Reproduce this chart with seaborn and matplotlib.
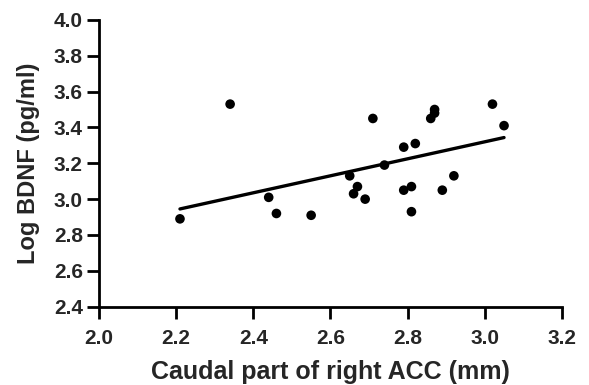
import matplotlib
matplotlib.use("Agg")
import matplotlib.pyplot as plt
import seaborn as sns
import pandas as pd

acc_mm = [2.21, 2.34, 2.44, 2.46, 2.55, 2.65, 2.66, 2.67, 2.69, 2.71, 2.74, 2.79,
          2.79, 2.81, 2.81, 2.82, 2.86, 2.87, 2.87, 2.89, 2.92, 3.02, 3.05]
log_bdnf = [2.89, 3.53, 3.01, 2.92, 2.91, 3.13, 3.03, 3.07, 3.00, 3.45, 3.19, 3.29,
            3.05, 3.07, 2.93, 3.31, 3.45, 3.48, 3.50, 3.05, 3.13, 3.53, 3.41]
x_ticks = [2.0, 2.2, 2.4, 2.6, 2.8, 3.0, 3.2]
y_ticks = [2.4, 2.6, 2.8, 3.0, 3.2, 3.4, 3.6, 3.8, 4.0]

df = pd.DataFrame({"x": acc_mm, "y": log_bdnf})

sns.set_style("ticks")
plt.rcParams['font.family'] = ['Liberation Sans', 'DejaVu Sans']

fig = plt.figure(figsize=(5.89, 3.85), dpi=100)
ax = fig.add_axes([0.168, 0.2034, 0.786, 0.745])
sns.regplot(data=df, x="x", y="y", ci=None, ax=ax,
            scatter_kws=dict(s=48, color="black", edgecolor="none", alpha=1, zorder=3),
            line_kws=dict(color="black", lw=2.4))

ax.set_xlim(2.0, 3.2)
ax.set_ylim(2.4, 4.0)
ax.set_xticks(x_ticks)
ax.set_yticks(y_ticks)
ax.set_xticklabels([f"{v:.1f}" for v in x_ticks], fontsize=15, fontweight="bold")
ax.set_yticklabels([f"{v:.1f}" for v in y_ticks], fontsize=15, fontweight="bold")
ax.set_xlabel("Caudal part of right ACC (mm)", fontsize=18, fontweight="bold", labelpad=8.5)
ax.set_ylabel("Log BDNF (pg/ml)", fontsize=17, fontweight="bold", labelpad=10)
for s in ["top", "right"]:
    ax.spines[s].set_visible(False)
for s in ["left", "bottom"]:
    ax.spines[s].set_linewidth(2)
    ax.spines[s].set_color("black")
ax.tick_params(width=2, length=8.5, color="black")
ax.tick_params(axis="x", pad=7.5)
ax.tick_params(axis="y", pad=3)

fig.savefig("out.png", dpi=100)
